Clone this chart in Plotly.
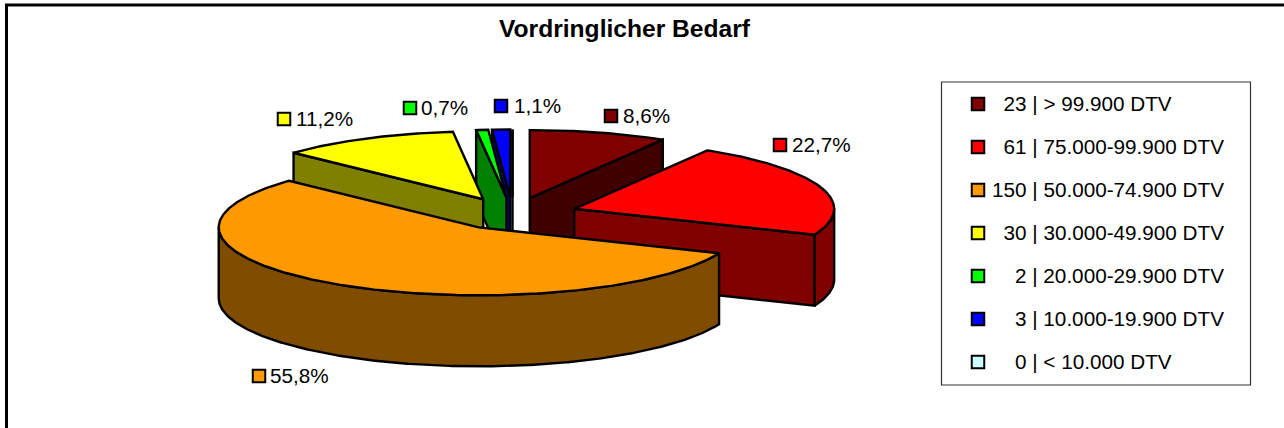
import math
import plotly.graph_objects as go

# ---- data ----
TITLE = "Vordringlicher Bedarf"
counts = [23, 61, 150, 30, 2, 3, 0]
classes = ["> 99.900 DTV", "75.000-99.900 DTV", "50.000-74.900 DTV", "30.000-49.900 DTV",
           "20.000-29.900 DTV", "10.000-19.900 DTV", "< 10.000 DTV"]
explode = [1, 1, 0.96, 1, 1, 1, 1]

# ---- styles ----
top_colors = ["#800000", "#FF0000", "#FF9900", "#FFFF00", "#00FF00", "#0000FF", "#CCFFFF"]
side_colors = ["#400000", "#800000", "#804D00", "#808000", "#008000", "#000080", "#668080"]
FONT = "Liberation Sans, Arial, sans-serif"
FS = 20.7
LW = 2.4

# ---- projection of the tilted pie onto the canvas ----
CX, CY = 512.5, 214
A, B = 260, 68
DEPTH = 71
EX, EY = 65, 16.5
draw_order = [6, 5, 4, 3, 0, 1, 2]
label_key = [(611, 116), (780, 145), (259, 376), (284, 119), (410, 108), (501, 106)]
label_text_x = [623, 792, 270, 296, 421, 514]
TEXT_DY = 2
LEGEND_X, LEGEND_Y0, LEGEND_DY = 978, 104, 43
LEGEND_TEXT_X = 992

total = sum(counts)
shares = [c / total for c in counts]
starts, acc = [], 0.0
for s in shares:
    starts.append(acc)
    acc += s


def pt(apex, deg):
    t = math.radians(deg)
    return apex[0] + A * math.sin(t), apex[1] - B * math.cos(t)


def poly(pts, fill):
    xs = [p[0] for p in pts] + [pts[0][0]]
    ys = [p[1] for p in pts] + [pts[0][1]]
    return go.Scatter(x=xs, y=ys, mode="lines", fill="toself", fillcolor=fill,
                      line=dict(color="black", width=LW, shape="linear"),
                      hoverinfo="skip", showlegend=False)


fig = go.Figure()
for i in draw_order:
    a0, a1 = starts[i] * 360, (starts[i] + shares[i]) * 360
    mid = math.radians((a0 + a1) / 2)
    apex = (CX + EX * explode[i] * math.sin(mid), CY - EY * explode[i] * math.cos(mid))
    low = (apex[0], apex[1] + DEPTH)
    s0 = math.sin(math.radians(a0))
    s1 = math.sin(math.radians(a1))
    if s0 < -1e-9 or shares[i] == 0:
        fig.add_trace(poly([apex, pt(apex, a0), pt(low, a0), low], side_colors[i]))
    if s1 > 1e-9:
        fig.add_trace(poly([apex, pt(apex, a1), pt(low, a1), low], side_colors[i]))
    w0, w1 = max(a0, 90), min(a1, 270)
    if w1 > w0:
        n = max(2, int((w1 - w0) * 2))
        angs = [w0 + (w1 - w0) * k / n for k in range(n + 1)]
        pts = [pt(apex, d) for d in angs] + [pt(low, d) for d in reversed(angs)]
        fig.add_trace(poly(pts, side_colors[i]))
    n = max(2, int((a1 - a0) * 2))
    fig.add_trace(poly([apex] + [pt(apex, a0 + (a1 - a0) * k / n) for k in range(n + 1)], top_colors[i]))

# data labels
label_x = [p[0] for p in label_key]
label_y = [p[1] for p in label_key]
label_text = [f"{100 * s:.1f}%".replace(".", ",") for s in shares[:6]]
fig.add_trace(go.Scatter(x=label_x, y=label_y, mode="markers",
                         marker=dict(symbol="square", size=12.5, color=top_colors[:6],
                                     line=dict(color="black", width=2)),
                         hoverinfo="skip", showlegend=False))
fig.add_trace(go.Scatter(x=label_text_x, y=[y + TEXT_DY for y in label_y], mode="text", text=label_text,
                         textposition="middle right",
                         textfont=dict(family=FONT, size=FS, color="black"),
                         hoverinfo="skip", showlegend=False))

# legend keys
pad = max(len(str(c)) for c in counts)
legend_text = ["\u00a0\u00a0" * (pad - len(str(c))) + f"{c} | {t}" for c, t in zip(counts, classes)]
legend_y = [LEGEND_Y0 + LEGEND_DY * k for k in range(len(counts))]
fig.add_trace(go.Scatter(x=[LEGEND_X] * len(counts), y=legend_y, mode="markers",
                         marker=dict(symbol="square", size=12.5, color=top_colors,
                                     line=dict(color="black", width=2)),
                         hoverinfo="skip", showlegend=False))
fig.add_trace(go.Scatter(x=[LEGEND_TEXT_X] * len(counts), y=[y + TEXT_DY for y in legend_y], mode="text",
                         text=legend_text, textposition="middle right",
                         textfont=dict(family=FONT, size=FS, color="black"),
                         hoverinfo="skip", showlegend=False))

fig.update_layout(
    width=1284, height=428, margin=dict(l=0, r=0, t=0, b=0),
    paper_bgcolor="white", plot_bgcolor="white",
    xaxis=dict(range=[0, 1284], visible=False, fixedrange=True),
    yaxis=dict(range=[428, 0], visible=False, fixedrange=True),
    shapes=[
        dict(type="rect", xref="x", yref="y", x0=6.5, y0=5, x1=1320, y1=460, layer="below",
             line=dict(color="black", width=3), fillcolor="white"),
        dict(type="rect", xref="x", yref="y", x0=941.5, y0=82, x1=1250.5, y1=385, layer="below",
             line=dict(color="#333333", width=1.2), fillcolor="white"),
    ],
    annotations=[dict(text=f"<b>{TITLE}</b>", xref="x", yref="y", x=624.5, y=28, showarrow=False,
                      font=dict(family=FONT, size=24.6, color="black"))],
)
fig.write_html("out.html", config={"displayModeBar": False},
               post_script="document.body.style.margin='0';")
